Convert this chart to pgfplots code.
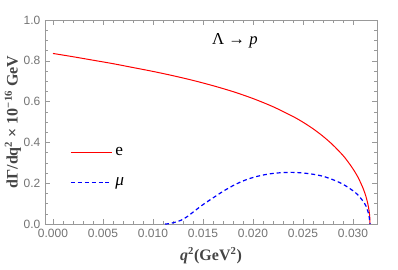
\documentclass[border=0pt]{standalone}
\usepackage{fontspec}
\setmainfont{Liberation Serif}
\setsansfont{Liberation Sans}
\usepackage{pgfplots}
\pgfplotsset{compat=1.18}
\definecolor{framegray}{gray}{0.6}
\definecolor{labelgray}{gray}{0.45}
\begin{document}
\begin{tikzpicture}[x=1pt,y=1pt]
\useasboundingbox (-33.75,-33.75) rectangle (264.75,168);
\begin{axis}[
  at={(0,0)}, anchor=south west,
  scale only axis, width=249pt, height=153pt,
  xmin=-0.0008, xmax=0.0324, ymin=0, ymax=1,
  axis line style={framegray},
  xtick={0,0.005,0.010,0.015,0.020,0.025,0.030},
  ytick={0,0.2,0.4,0.6,0.8,1.0},
  minor x tick num=4, minor y tick num=3,
  tick align=inside,
  tick style={framegray, line width=0.4pt},
  major tick length=4pt, minor tick length=2.3pt,
  scaled x ticks=false, scaled y ticks=false,
  xticklabel style={/pgf/number format/.cd, fixed, fixed zerofill, precision=3},
  yticklabel style={/pgf/number format/.cd, fixed, fixed zerofill, precision=1},
  /pgf/number format/assume math mode=true,
  ticklabel style={font=\sffamily\fontsize{9}{10}\selectfont, text=labelgray},
  xlabel={\textbf{\textit{q}\textsuperscript{2}(GeV\textsuperscript{2})}},
  ylabel={\textbf{dΓ/dq\textsuperscript{2} × 10\textsuperscript{−16} GeV}},
  label style={font=\fontsize{12}{13}\selectfont, text=labelgray!60!black},
  xlabel style={yshift=-1pt},
  ylabel style={yshift=-5pt},
  legend cell align=left,
  legend image code/.code={\draw[#1] (0pt,0pt) -- (31pt,0pt);},
  legend style={draw=none, fill=none, at={(rel axis cs:0.075,0.39)}, anchor=north west,
     row sep=11pt, font=\fontsize{13}{14}\selectfont, inner sep=0pt},
]
\addplot[red, line width=0.75pt, smooth, tension=0.5] coordinates {
(0,0.836) (0.002,0.820) (0.004,0.803) (0.006,0.786) (0.008,0.767) (0.010,0.748)
(0.012,0.727) (0.014,0.704) (0.016,0.678) (0.018,0.649) (0.020,0.615) (0.022,0.575)
(0.024,0.527) (0.025,0.499) (0.026,0.467) (0.027,0.430) (0.028,0.387) (0.029,0.336)
(0.0295,0.305) (0.030,0.270) (0.0305,0.229) (0.031,0.176) (0.0313,0.134) (0.0315,0.095)
(0.0316,0.067) (0.03165,0.048) (0.03168,0.030) (0.0317,0)
};
\addlegendentry{e}
\addplot[blue, line width=0.9pt, dash pattern=on 3pt off 2.2pt, smooth, tension=0.5] coordinates {
(0.0112,0) (0.0115,0.001) (0.012,0.006) (0.0125,0.013) (0.013,0.023) (0.0135,0.039)
(0.014,0.058) (0.015,0.095) (0.016,0.128) (0.017,0.160) (0.018,0.188) (0.019,0.211)
(0.020,0.228) (0.021,0.240) (0.022,0.248) (0.023,0.252) (0.024,0.253) (0.025,0.250)
(0.026,0.244) (0.027,0.234) (0.028,0.217) (0.029,0.195) (0.030,0.163) (0.0305,0.142)
(0.031,0.112) (0.0313,0.088) (0.0315,0.060) (0.0316,0.041) (0.0317,0)
};
\addlegendentry{\textit{μ}}
\node[font=\fontsize{12.5}{13}\selectfont] at (rel axis cs:0.572,0.90) {Λ → \textit{p}};
\end{axis}
\end{tikzpicture}
\end{document}
